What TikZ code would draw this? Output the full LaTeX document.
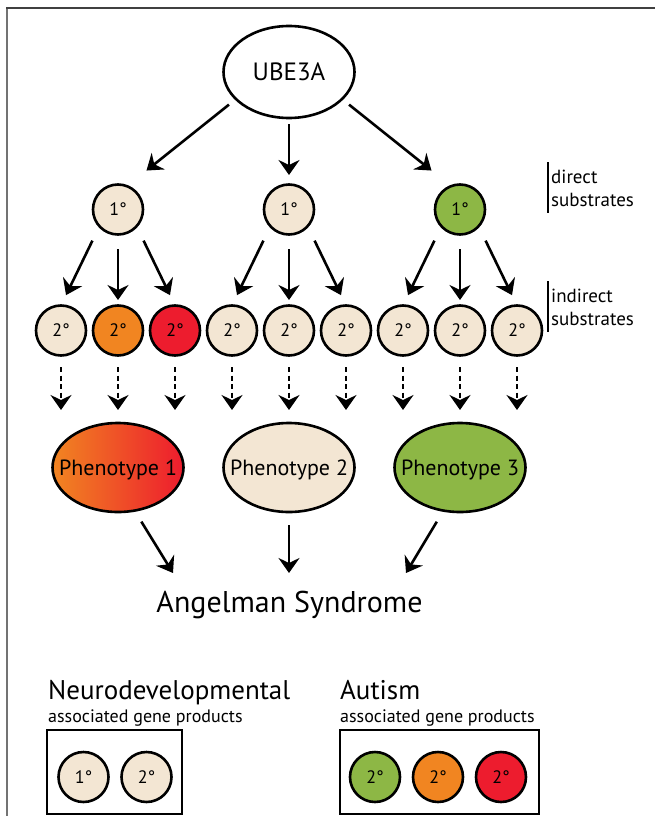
\documentclass[tikz,border=0pt]{standalone}
\usepackage{fontspec}
\setmainfont{PT Sans}
\usetikzlibrary{arrows.meta,shapes.geometric}

\definecolor{beige}{RGB}{243,230,211}
\definecolor{leafgreen}{RGB}{141,183,69}
\definecolor{tangerine}{RGB}{241,133,33}
\definecolor{scarlet}{RGB}{237,28,46}

\begin{document}
\begin{tikzpicture}[x=1pt,y=-1pt,
  sub/.style={ellipse,draw,line width=2.6pt,fill=beige,inner sep=0pt,outer sep=0pt,
    minimum width=50pt,minimum height=50pt,font=\fontsize{18}{18}\selectfont},
  pheno/.style={ellipse,draw,line width=2.6pt,fill=beige,inner ysep=0pt,inner xsep=-14pt,
    outer sep=0pt,minimum width=131pt,minimum height=89pt,text depth=0pt,
    font=\fontsize{22}{22}\selectfont},
  arr/.style={-{Stealth[length=15pt,width=21pt,inset=5pt]},line width=2.6pt},
  darr/.style={arr,line width=2pt,dash pattern=on 5pt off 3.5pt},
  bar/.style={line width=2.4pt},
  lab/.style={anchor=base west,align=left,inner xsep=3pt,inner ysep=7pt,
    font=\fontsize{19}{23}\selectfont},
  title/.style={anchor=base west,inner sep=0pt,font=\fontsize{27}{27}\selectfont},
  subtitle/.style={anchor=base west,inner sep=0pt,font=\fontsize{18}{18}\selectfont}
]
 \def\rowA{209.5} % 1st row (direct)
 \def\rowB{330.5} % 2nd row (indirect)
 \def\rowP{467.5} % phenotypes
 \def\rowL{777}   % legend
 \useasboundingbox (0,0) rectangle (655,816);
 % frame
 \draw[line width=2pt,black!55] (7,816) -- (7,8);
 \draw[line width=2pt,black!75] (6,8) -- (655,8);
 % gene
 \node[ellipse,draw,line width=2.6pt,inner sep=0pt,outer sep=0pt,minimum width=131pt,
   minimum height=92pt,font=\fontsize{25}{25}\selectfont] (ube) at (289,72) {UBE3A};
 % direct substrates
 \node[sub] (s1a) at (118,\rowA) {1°};
 \node[sub] (s1b) at (289,\rowA) {1°};
 \node[sub,fill=leafgreen] (s1c) at (460,\rowA) {1°};
 \draw[arr,shorten <=9pt,shorten >=25pt] (ube.207) -- (s1a.69);
 \draw[arr,shorten <=6pt,shorten >=9.5pt] (ube.south) -- (s1b.north);
 \draw[arr,shorten <=9pt,shorten >=25pt] (ube.-27) -- (s1c.111);
 % indirect substrates
 \node[sub] (s2a) at (61,\rowB) {2°};
 \node[sub,fill=tangerine] (s2b) at (118,\rowB) {2°};
 \node[sub,fill=scarlet] (s2c) at (175,\rowB) {2°};
 \node[sub] (s2d) at (232,\rowB) {2°};
 \node[sub] (s2e) at (289,\rowB) {2°};
 \node[sub] (s2f) at (346,\rowB) {2°};
 \node[sub] (s2g) at (403,\rowB) {2°};
 \node[sub] (s2h) at (460,\rowB) {2°};
 \node[sub] (s2i) at (517,\rowB) {2°};
 \draw[arr,shorten <=16pt,shorten >=11.5pt] (s1a.222) -- (s2a.north);
 \draw[arr,shorten <=14.5pt,shorten >=5.5pt] (s1a.south) -- (s2b.north);
 \draw[arr,shorten <=16pt,shorten >=11.5pt] (s1a.-42) -- (s2c.north);
 \draw[arr,shorten <=16pt,shorten >=11.5pt] (s1b.222) -- (s2d.north);
 \draw[arr,shorten <=14.5pt,shorten >=5.5pt] (s1b.south) -- (s2e.north);
 \draw[arr,shorten <=16pt,shorten >=11.5pt] (s1b.-42) -- (s2f.north);
 \draw[arr,shorten <=16pt,shorten >=11.5pt] (s1c.222) -- (s2g.north);
 \draw[arr,shorten <=14.5pt,shorten >=5.5pt] (s1c.south) -- (s2h.north);
 \draw[arr,shorten <=16pt,shorten >=11.5pt] (s1c.-42) -- (s2i.north);
 % labels on the right
 \node[lab] (dir) at (548,206) {direct\\substrates};
 \draw[bar] (dir.north west) -- (dir.south west);
 \node[lab] (indir) at (548,325) {indirect\\substrates};
 \draw[bar] (indir.north west) -- (indir.south west);
 % phenotypes
 \node[pheno,left color=tangerine,right color=scarlet] (ph1) at (118,\rowP) {Phenotype 1};
 \node[pheno] (ph2) at (289,\rowP) {Phenotype 2};
 \node[pheno,fill=leafgreen] (ph3) at (460,\rowP) {Phenotype 3};
 \draw[darr,shorten <=11.5pt,shorten >=13pt] (s2a.south) -- (s2a.south |- ph1.north);
 \draw[darr,shorten <=11.5pt,shorten >=13pt] (s2b.south) -- (s2b.south |- ph1.north);
 \draw[darr,shorten <=11.5pt,shorten >=13pt] (s2c.south) -- (s2c.south |- ph1.north);
 \draw[darr,shorten <=11.5pt,shorten >=13pt] (s2d.south) -- (s2d.south |- ph2.north);
 \draw[darr,shorten <=11.5pt,shorten >=13pt] (s2e.south) -- (s2e.south |- ph2.north);
 \draw[darr,shorten <=11.5pt,shorten >=13pt] (s2f.south) -- (s2f.south |- ph2.north);
 \draw[darr,shorten <=11.5pt,shorten >=13pt] (s2g.south) -- (s2g.south |- ph3.north);
 \draw[darr,shorten <=11.5pt,shorten >=13pt] (s2h.south) -- (s2h.south |- ph3.north);
 \draw[darr,shorten <=11.5pt,shorten >=13pt] (s2i.south) -- (s2i.south |- ph3.north);
 % syndrome
 \node[anchor=base,font=\fontsize{30}{30}\selectfont] (as) at (289.5,612) {Angelman Syndrome};
 \coordinate (in1) at (173,573);
 \coordinate (in2) at (289,573);
 \coordinate (in3) at (406,573);
 \draw[arr,shorten <=13pt] (ph1.-69) -- (in1);
 \draw[arr,shorten <=13pt] (ph2.south) -- (in2);
 \draw[arr,shorten <=13pt] (ph3.-111) -- (in3);
 % legend: neurodevelopmental
 \node[title] (neuro) at (48,699) {Neurodevelopmental};
 \node[subtitle] (neurosub) at (48,722) {associated gene products};
 \draw[line width=2.4pt] (47,730) rectangle (182,814);
 \node[sub] (n1) at (83.5,\rowL) {1°};
 \node[sub] (n2) at (146.5,\rowL) {2°};
 % legend: autism
 \node[title] (aut) at (340,699) {Autism};
 \node[subtitle] (autsub) at (340,722) {associated gene products};
 \draw[line width=2.4pt] (340,730) rectangle (539,814);
 \node[sub,fill=leafgreen] (a1) at (375,\rowL) {2°};
 \node[sub,fill=tangerine] (a2) at (438,\rowL) {2°};
 \node[sub,fill=scarlet] (a3) at (501,\rowL) {2°};
\end{tikzpicture}
\end{document}
